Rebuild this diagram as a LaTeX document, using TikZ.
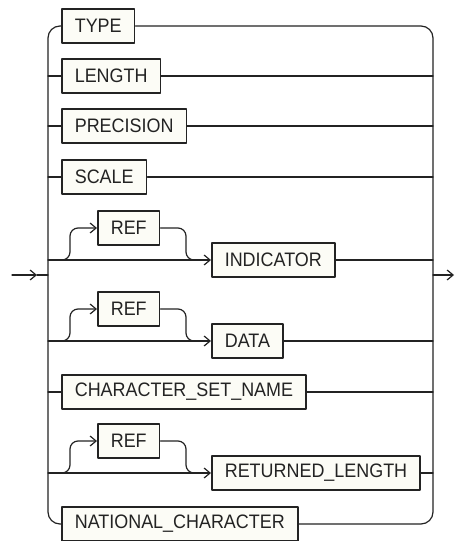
\documentclass[tikz,border=0pt]{standalone}
\usepackage{fontspec}
\setmainfont{Liberation Sans}[FakeStretch=0.92]
\usetikzlibrary{arrows.meta}
\definecolor{boxfill}{RGB}{252,252,246}
\definecolor{rail}{RGB}{35,35,35}
\tikzset{
  kw/.style={draw=rail, line width=1.6pt, fill=boxfill, anchor=west, minimum height=34pt,
    inner xsep=13pt, text=rail, font=\fontsize{19.5}{22}\selectfont},
  track/.style={draw=rail, line width=1.2pt},
  barb/.style={-{Straight Barb[length=6pt,width=10pt]}}
}
\begin{document}
\begin{tikzpicture}[x=1pt, y=-1pt, line cap=round, line join=round]
  \useasboundingbox (0,0) rectangle (455,541);
  % plain keywords
  \node[kw] (type) at (61,26) {TYPE};
  \foreach \nm/\y/\txt in {length/76/LENGTH, precision/126/PRECISION, scale/177/SCALE,
      charset/392/CHARACTER\_SET\_NAME} {
    \node[kw] (\nm) at (61,\y) {\txt};
    \draw[track] (48,\y) -- (\nm.west);
    \draw[track] (\nm.east) -- (433,\y);
  }
  \node[kw] (natchar) at (61,524) {NATIONAL\_CHARACTER};
  % the two rails
  \draw[track, rounded corners=12pt] (type.west) -- (48,26) -- (48,524) -- (natchar.west);
  \draw[track, rounded corners=12pt] (type.east) -- (433,26) -- (433,524) -- (natchar.east);
  % keywords with optional REF
  \foreach \nm/\y/\txt in {indicator/260/INDICATOR, data/341/DATA, retlen/473/RETURNED\_LENGTH} {
    \node[kw] (\nm) at (211,\y) {\txt};
    \node[kw] (ref-\nm) at (97,\y-32) {REF};
    \draw[track, barb] (48,\y) -- (\nm.west);
    \draw[track, barb, rounded corners=8pt] (62,\y) -- (70,\y) -- (70,\y-32) -- (ref-\nm.west);
    \draw[track, rounded corners=8pt] (ref-\nm.east) -- (186,\y-32) -- (186,\y) -- (198,\y);
    \draw[track] (\nm.east) -- (433,\y);
  }
  % entry and exit
  \coordinate (start) at (12,275);
  \coordinate (mid) at (37,275);
  \coordinate (stop) at (454,275);
  \draw[track, barb] (start) -- (mid);
  \draw[track] (mid) -- (48,275);
  \draw[track, barb] (433,275) -- (stop);
\end{tikzpicture}
\end{document}
